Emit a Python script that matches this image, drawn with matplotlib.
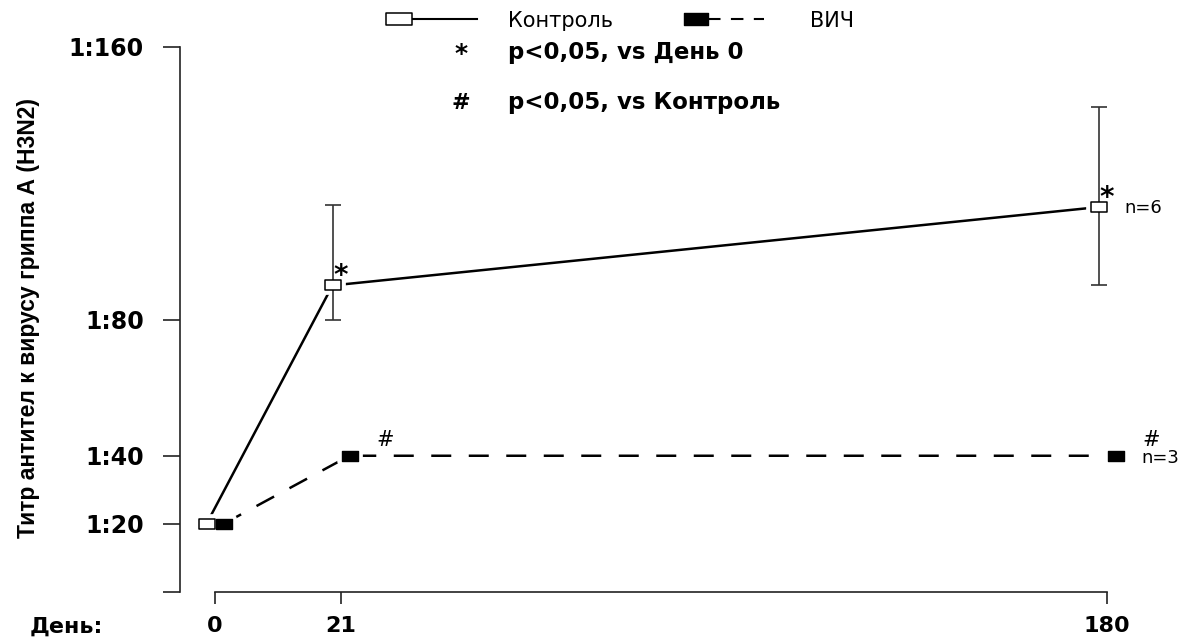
import numpy as np
import matplotlib
matplotlib.use("Agg")
import matplotlib.pyplot as plt
from matplotlib.lines import Line2D
from matplotlib.path import Path
from matplotlib.transforms import ScaledTranslation

# data
days = [0, 21, 180]
day_labels = ["0", "21", "180"]
control_titer = [20, 90, 113]
control_err_up = [0, 23.5, 29.5]
control_err_down = [0, 10, 23]
hiv_titer = [20, 40, 40]
control_marks = ["", "*", "*"]
hiv_marks = ["", "#", "#"]
n_control = 6
n_hiv = 3
y_ticks = [0, 20, 40, 80, 160]
y_labels = ["", "1:20", "1:40", "1:80", "1:160"]

W, H = 1200, 641
BOLD = dict(fontfamily="DejaVu Sans", fontweight="bold")


def fwd(d):
    # uneven day axis: 0-21 wider than 21-180
    d = np.asarray(d, dtype=float)
    return np.where(d <= 21, d * 6.0, 126 + (d - 21) * (766.0 / 159.0))


def inv(p):
    p = np.asarray(p, dtype=float)
    return np.where(p <= 126, p / 6.0, 21 + (p - 126) * (159.0 / 766.0))


def fx(px):
    return px / W


def fy(py):
    return 1 - py / H


rect = Path([(-1.5, -1), (1.5, -1), (1.5, 1), (-1.5, 1), (-1.5, -1)],
            [Path.MOVETO, Path.LINETO, Path.LINETO, Path.LINETO, Path.CLOSEPOLY])
wide_rect = Path([(-2.1, -1), (2.1, -1), (2.1, 1), (-2.1, 1), (-2.1, -1)],
                 [Path.MOVETO, Path.LINETO, Path.LINETO, Path.LINETO, Path.CLOSEPOLY])

fig = plt.figure(figsize=(W / 100, H / 100), dpi=100)
ax = fig.add_axes([fx(180), 1 - 592 / H, 1020 / W, 545 / H])
ax.set_xscale("function", functions=(fwd, inv))
ax.set_xlim(float(inv(-35)), float(inv(1020 - 35)))
ax.set_ylim(0, 160)

tr_c = ax.transData + ScaledTranslation(-0.085, 0, fig.dpi_scale_trans)
tr_h = ax.transData + ScaledTranslation(0.085, 0, fig.dpi_scale_trans)

ax.plot(days, control_titer, color="k", lw=1.8, transform=tr_c, zorder=2, clip_on=False)
ax.plot(days, hiv_titer, color="k", lw=1.8, dashes=(8, 7), transform=tr_h, zorder=2, clip_on=False)

# white gaps around markers
for vals, tr in ((control_titer, tr_c), (hiv_titer, tr_h)):
    ax.plot(days, vals, ls="none", marker=rect, ms=11, mfc="w", mec="w", mew=7,
            transform=tr, zorder=3, clip_on=False)

for d, v, up, dn in zip(days, control_titer, control_err_up, control_err_down):
    if up == 0 and dn == 0:
        continue
    ax.vlines(d, v - dn, v + up, color="#333333", lw=1.2, transform=tr_c, zorder=4)
    ax.plot([d, d], [v - dn, v + up], ls="none", marker="_", ms=12, mew=1.2,
            color="#333333", transform=tr_c, zorder=4, clip_on=False)

ax.plot(days, control_titer, ls="none", marker=rect, ms=11, mfc="w", mec="k", mew=1.1,
        transform=tr_c, zorder=5, clip_on=False)
ax.plot(days, hiv_titer, ls="none", marker=rect, ms=11.5, mfc="k", mec="k", mew=1,
        transform=tr_h, zorder=5, clip_on=False)

for d, v, m in zip(days, control_titer, control_marks):
    if m:
        ax.annotate(m, xy=(d, v), xycoords=tr_c, xytext=(1, 1), textcoords="offset pixels",
                    ha="left", va="baseline", fontsize=20, **BOLD)
for d, v, m in zip(days, hiv_titer, hiv_marks):
    if m:
        ax.annotate(m, xy=(d, v), xycoords=tr_h, xytext=(27, 10), textcoords="offset pixels",
                    ha="left", va="baseline", fontsize=15, fontfamily="DejaVu Sans")
ax.annotate("n=%d" % n_control, xy=(days[-1], control_titer[-1]), xycoords=tr_c,
            xytext=(26, -6), textcoords="offset pixels", ha="left", va="baseline",
            fontsize=13, fontfamily="DejaVu Sans")
ax.annotate("n=%d" % n_hiv, xy=(days[-1], hiv_titer[-1]), xycoords=tr_h,
            xytext=(26, -7), textcoords="offset pixels", ha="left", va="baseline",
            fontsize=13, fontfamily="DejaVu Sans")

for s in ("top", "right"):
    ax.spines[s].set_visible(False)
for s in ("left", "bottom"):
    ax.spines[s].set_color("#222222")
    ax.spines[s].set_linewidth(1.2)
ax.spines["left"].set_bounds(0, 160)
ax.spines["bottom"].set_bounds(0, 180)

ax.set_yticks(y_ticks)
ax.set_yticklabels(y_labels, fontsize=17, **BOLD)
ax.set_xticks(days)
ax.set_xticklabels(day_labels, fontsize=16, **BOLD)
ax.minorticks_off()
ax.tick_params(axis="y", length=12, width=1.2, color="#222222", pad=14)
ax.tick_params(axis="x", length=8.5, width=1.2, color="#222222", pad=9)

fig.text(fx(30), fy(627), "День:", ha="left", va="center", fontsize=16, **BOLD)
fig.text(fx(29), fy(318), "Титр антител к вирусу гриппа А (H3N2)", rotation=90,
         ha="center", va="center", fontsize=16.5, fontweight="bold",
         fontfamily=["Liberation Sans Narrow", "Liberation Sans", "DejaVu Sans"])

# legend drawn by hand
fig.add_artist(Line2D([fx(412), fx(477)], [fy(19), fy(19)], color="k", lw=1.5))
fig.add_artist(Line2D([fx(399)], [fy(19)], marker=wide_rect, ms=19, mfc="w", mec="k", mew=1.1, ls="none"))
fig.add_artist(Line2D([fx(708), fx(764)], [fy(19), fy(19)], color="k", lw=1.5, dashes=(6, 5)))
fig.add_artist(Line2D([fx(696)], [fy(19)], marker=wide_rect, ms=17.5, mfc="k", mec="k", ls="none"))
fig.text(fx(508), fy(21), "Контроль", ha="left", va="center", fontsize=15, fontfamily="DejaVu Sans")
fig.text(fx(810), fy(21), "ВИЧ", ha="left", va="center", fontsize=15, fontfamily="DejaVu Sans")
fig.text(fx(461), fy(54), "*", ha="center", va="center", fontsize=18, **BOLD)
fig.text(fx(508), fy(52), "p<0,05, vs День 0", ha="left", va="center", fontsize=16.5, **BOLD)
fig.text(fx(461), fy(103), "#", ha="center", va="center", fontsize=16, **BOLD)
fig.text(fx(508), fy(103), "p<0,05, vs Контроль", ha="left", va="center", fontsize=16.5, **BOLD)

fig.savefig("out.png", dpi=100, facecolor="white")
